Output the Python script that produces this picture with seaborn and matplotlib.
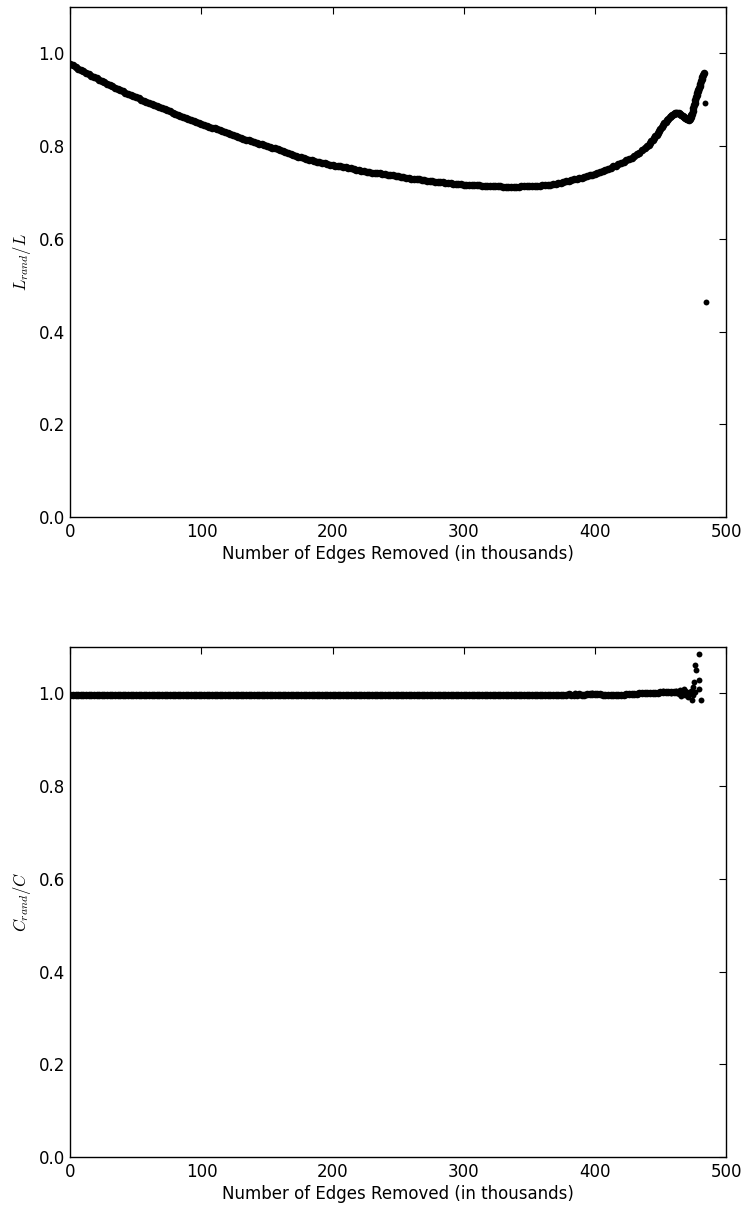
import numpy as np
import pandas as pd
import matplotlib
matplotlib.use('Agg')
import matplotlib.pyplot as plt
import seaborn as sns

# ---------------- Data ----------------
# L_rand/L, read every 2k edges up to 438k, every 1k to 469k, every 0.5k to 483k
l_edges = np.concatenate([np.arange(0, 439, 2), np.arange(440, 470, 1),
                          np.arange(470, 483.1, 0.5)])
l_ratio = [
    0.977, 0.974, 0.971, 0.967, 0.964, 0.961, 0.958, 0.955, 0.952, 0.949,
    0.946, 0.943, 0.940, 0.938, 0.935, 0.932, 0.929, 0.926, 0.924, 0.921,
    0.918, 0.915, 0.913, 0.910, 0.908, 0.905, 0.903, 0.900, 0.898, 0.895,
    0.893, 0.891, 0.889, 0.886, 0.884, 0.882, 0.880, 0.877, 0.875, 0.872,
    0.870, 0.868, 0.865, 0.863, 0.860, 0.858, 0.856, 0.854, 0.852, 0.850,
    0.848, 0.846, 0.844, 0.842, 0.840, 0.838, 0.836, 0.834, 0.832, 0.830,
    0.828, 0.826, 0.824, 0.822, 0.820, 0.818, 0.816, 0.814, 0.813, 0.811,
    0.809, 0.807, 0.805, 0.804, 0.802, 0.800, 0.798, 0.796, 0.795, 0.793,
    0.791, 0.789, 0.787, 0.785, 0.783, 0.781, 0.779, 0.777, 0.776, 0.774,
    0.772, 0.771, 0.769, 0.768, 0.766, 0.765, 0.764, 0.763, 0.761, 0.760,
    0.759, 0.758, 0.757, 0.756, 0.755, 0.754, 0.753, 0.752, 0.750, 0.749,
    0.748, 0.747, 0.746, 0.745, 0.744, 0.743, 0.742, 0.741, 0.741, 0.740,
    0.739, 0.738, 0.737, 0.737, 0.736, 0.735, 0.734, 0.733, 0.732, 0.731,
    0.730, 0.729, 0.728, 0.728, 0.727, 0.726, 0.725, 0.725, 0.724, 0.723,
    0.723, 0.722, 0.722, 0.721, 0.721, 0.720, 0.719, 0.719, 0.718, 0.718,
    0.717, 0.717, 0.716, 0.716, 0.715, 0.715, 0.715, 0.714, 0.714, 0.714,
    0.714, 0.713, 0.713, 0.713, 0.713, 0.712, 0.712, 0.712, 0.712, 0.712,
    0.712, 0.712, 0.713, 0.713, 0.713, 0.713, 0.713, 0.714, 0.714, 0.714,
    0.715, 0.716, 0.717, 0.717, 0.718, 0.719, 0.720, 0.721, 0.722, 0.724,
    0.725, 0.726, 0.728, 0.729, 0.731, 0.732, 0.734, 0.735, 0.737, 0.738,
    0.740, 0.742, 0.744, 0.747, 0.749, 0.751, 0.753, 0.756, 0.758, 0.761,
    0.763, 0.766, 0.769, 0.772, 0.775, 0.778, 0.782, 0.786, 0.791, 0.796,
    # 440k .. 469k
    0.800, 0.803, 0.806, 0.810, 0.813, 0.817, 0.821, 0.825, 0.829, 0.833,
    0.837, 0.841, 0.845, 0.849, 0.853, 0.856, 0.859, 0.862, 0.865, 0.867,
    0.869, 0.871, 0.872, 0.872, 0.871, 0.870, 0.868, 0.865, 0.863, 0.861,
    # 470k .. 483k
    0.859, 0.858, 0.858, 0.857, 0.858, 0.859, 0.862, 0.866, 0.870, 0.876,
    0.882, 0.888, 0.893, 0.899, 0.905, 0.910, 0.914, 0.918, 0.922, 0.926,
    0.930, 0.935, 0.940, 0.945, 0.950, 0.954, 0.958,
]
l_out_edges = [483.6, 484.7]
l_out_ratio = [0.894, 0.464]

# C_rand/C, read every 2k edges up to 468k
c_edges = np.arange(0, 469, 2)
c_ratio = [
    0.996, 0.996, 0.996, 0.996, 0.996, 0.996, 0.996, 0.996, 0.996, 0.996,
    0.996, 0.996, 0.996, 0.996, 0.996, 0.996, 0.996, 0.996, 0.996, 0.996,
    0.996, 0.996, 0.996, 0.996, 0.996, 0.996, 0.996, 0.996, 0.996, 0.996,
    0.996, 0.996, 0.996, 0.996, 0.996, 0.996, 0.996, 0.996, 0.996, 0.996,
    0.996, 0.996, 0.996, 0.996, 0.996, 0.996, 0.996, 0.996, 0.996, 0.996,
    0.996, 0.996, 0.996, 0.996, 0.996, 0.996, 0.996, 0.996, 0.996, 0.996,
    0.996, 0.996, 0.996, 0.996, 0.996, 0.996, 0.996, 0.996, 0.996, 0.996,
    0.996, 0.996, 0.996, 0.996, 0.996, 0.996, 0.996, 0.996, 0.996, 0.996,
    0.996, 0.996, 0.996, 0.996, 0.996, 0.996, 0.996, 0.996, 0.996, 0.996,
    0.996, 0.996, 0.996, 0.996, 0.996, 0.996, 0.996, 0.996, 0.996, 0.996,
    0.996, 0.996, 0.996, 0.996, 0.996, 0.996, 0.996, 0.996, 0.996, 0.996,
    0.996, 0.996, 0.996, 0.996, 0.996, 0.996, 0.996, 0.996, 0.996, 0.996,
    0.996, 0.996, 0.996, 0.996, 0.996, 0.996, 0.996, 0.996, 0.996, 0.996,
    0.996, 0.996, 0.996, 0.996, 0.996, 0.996, 0.996, 0.996, 0.996, 0.996,
    0.996, 0.996, 0.996, 0.996, 0.996, 0.996, 0.996, 0.996, 0.996, 0.996,
    0.996, 0.996, 0.996, 0.996, 0.996, 0.996, 0.996, 0.996, 0.996, 0.996,
    0.996, 0.996, 0.996, 0.996, 0.996, 0.996, 0.996, 0.996, 0.996, 0.996,
    0.996, 0.996, 0.996, 0.996, 0.996, 0.996, 0.996, 0.996, 0.996, 0.996,
    0.996, 0.996, 0.996, 0.996, 0.996, 0.996,
    # 372k .. 398k
    0.997, 0.996, 0.997, 0.997, 0.998, 0.997, 0.997, 0.997, 0.998, 0.997,
    0.997, 0.998, 0.998, 0.998,
    # 400k .. 428k
    0.998, 0.998, 0.998, 0.997, 0.997, 0.997, 0.996, 0.996, 0.996, 0.997,
    0.997, 0.997, 0.998, 0.998, 0.999,
    # 430k .. 468k
    0.999, 0.999, 1.000, 1.000, 1.000, 1.001, 1.001, 1.001, 1.001, 1.001,
    1.002, 1.002, 1.002, 1.003, 1.003, 1.003, 1.004, 1.004, 1.004, 1.005,
]
c_out_edges = [385, 398, 405, 452, 458, 462, 464, 465, 466, 467, 468, 469,
               470, 471, 472, 473, 474, 474.5, 475, 475.8, 476.0, 476.5,
               476.8, 479.1, 479.5, 479.6, 480.9]
c_out_ratio = [1.000, 1.001, 0.999, 1.006, 1.001, 1.006, 0.999, 1.008, 0.995,
               1.004, 1.009, 0.997, 1.003, 0.993, 1.000, 1.006, 0.986, 0.996,
               1.014, 1.025, 1.003, 1.061, 1.051, 1.029, 1.085, 1.009, 0.985]

assert len(l_edges) == len(l_ratio)
assert len(c_edges) == len(c_ratio)

df_l = pd.DataFrame({'edges': l_edges, 'ratio': l_ratio})
df_l_out = pd.DataFrame({'edges': l_out_edges, 'ratio': l_out_ratio})
df_c = pd.DataFrame({'edges': c_edges, 'ratio': c_ratio})
df_c_out = pd.DataFrame({'edges': c_out_edges, 'ratio': c_out_ratio})

# ---------------- Style ----------------
sns.set_style('white')
plt.rcParams.update({
    'font.family': ['DejaVu Sans'],
    'font.size': 12,
    'mathtext.fontset': 'cm',
    'text.color': 'black', 'axes.labelcolor': 'black',
    'xtick.direction': 'in', 'ytick.direction': 'in',
    'xtick.top': True, 'ytick.right': True,
    'xtick.major.size': 5, 'ytick.major.size': 5,
    'xtick.major.pad': 4, 'ytick.major.pad': 4,
    'xtick.labelsize': 12, 'ytick.labelsize': 12,
    'axes.edgecolor': 'black', 'axes.linewidth': 1.0,
    'xtick.color': 'black', 'ytick.color': 'black',
})

fig = plt.figure(figsize=(7.48, 12.09), dpi=100)
ax1 = fig.add_axes([0.094, 0.5724, 0.8766, 0.4218])
ax2 = fig.add_axes([0.094, 0.0430, 0.8766, 0.4218])

panels = [(ax1, df_l, df_l_out, r'$L_{rand}/L$'),
          (ax2, df_c, df_c_out, r'$C_{rand}/C$')]
for ax, df, df_out, lab in panels:
    # dense curve -> overlapping dots, stray points -> single dots
    sns.scatterplot(data=df, x='edges', y='ratio', color='black', s=30,
                    linewidth=0, ax=ax, legend=False)
    sns.scatterplot(data=df_out, x='edges', y='ratio', color='black', s=18,
                    linewidth=0, ax=ax, legend=False)
    ax.set_xlim(0, 500)
    ax.set_ylim(0, 1.1)
    ax.set_xticks([0, 100, 200, 300, 400, 500])
    ax.set_yticks([0.0, 0.2, 0.4, 0.6, 0.8, 1.0])
    ax.set_xlabel('Number of Edges Removed (in thousands)', fontsize=12, labelpad=3)
    ax.set_ylabel(lab, fontsize=12)
    for s in ax.spines.values():
        s.set_visible(True)

plt.savefig('out.png', dpi=100)
plt.close()
